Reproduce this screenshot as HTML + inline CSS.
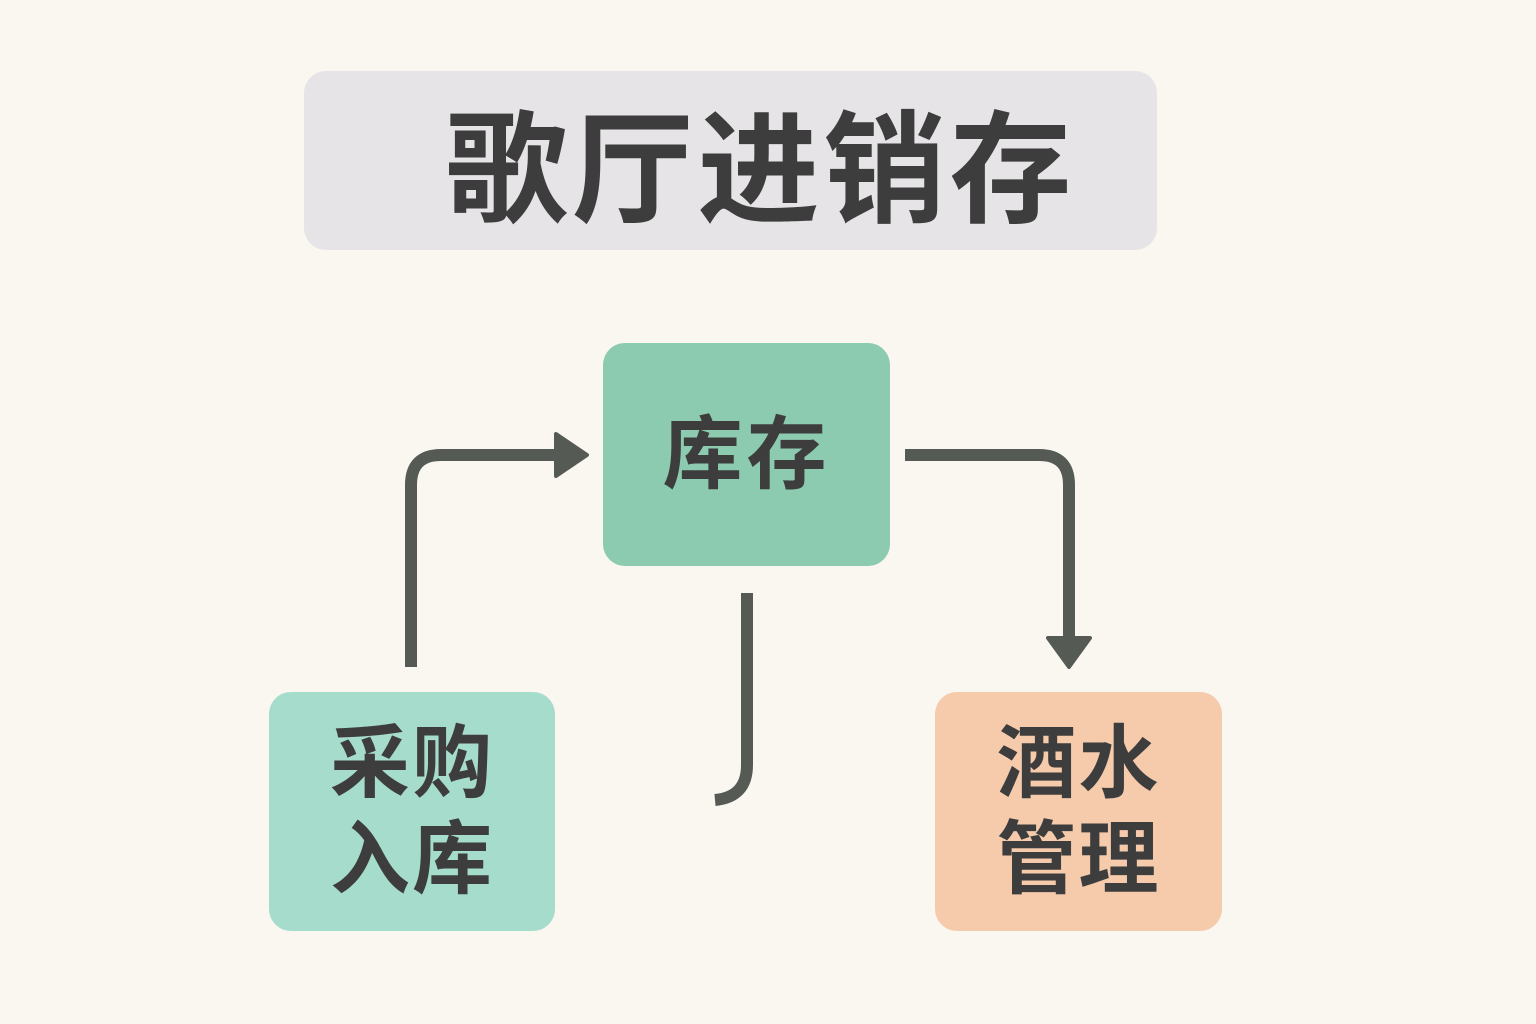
<!DOCTYPE html>
<html><head><meta charset="utf-8"><style>
body{margin:0;width:1536px;height:1024px;background:#faf7f1;position:relative;overflow:hidden;font-family:"Liberation Sans","Noto Sans CJK SC",sans-serif;color:#3d3d3d}
.b{position:absolute;border-radius:22px;display:flex;align-items:center;justify-content:center;text-align:center;font-weight:700}
</style></head><body>
<div class="b" style="left:304px;top:71px;width:853px;height:179px;background:#e7e4e7;font-size:122px;letter-spacing:4px;padding-left:60px;box-sizing:border-box">歌厅进销存</div>
<div class="b" style="left:603px;top:343px;width:287px;height:223px;background:#8ccbb0;font-size:80px;line-height:1;letter-spacing:4px">库存</div>
<div class="b" style="left:269px;top:692px;width:286px;height:239px;background:#a6dccb;font-size:80px;line-height:96px;letter-spacing:2px">采购<br>入库</div>
<div class="b" style="left:935px;top:692px;width:287px;height:239px;background:#f5cbac;font-size:80px;line-height:96px;letter-spacing:2px">酒水<br>管理</div>
<svg width="1536" height="1024" style="position:absolute;left:0;top:0" fill="none" stroke="#555a55" stroke-width="12">
<path d="M411 667 V485 Q411 455 441 455 H562"/>
<path d="M556 434 L587 455 L556 476 Z" fill="#555a55" stroke-linejoin="round" stroke-width="4"/>
<path d="M905 455 H1039 Q1069 455 1069 485 V642"/>
<path d="M1048 638 L1069 667 L1090 638 Z" fill="#555a55" stroke-linejoin="round" stroke-width="4"/>
<path d="M747 593 V765 Q747 797 715 800"/>
</svg>
</body></html>
